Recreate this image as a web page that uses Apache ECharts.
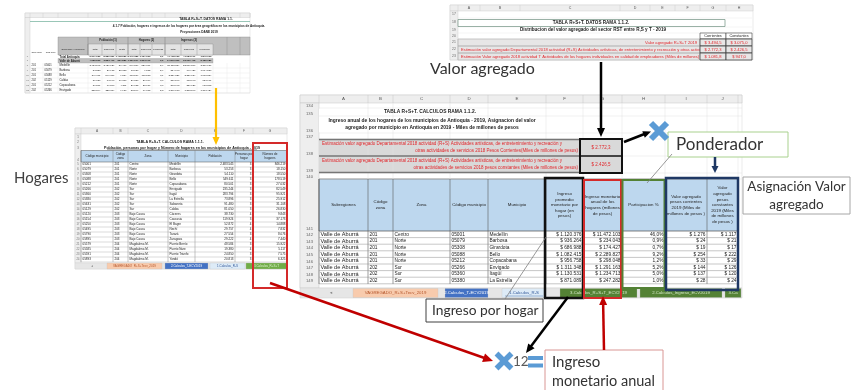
<!DOCTYPE html>
<html><head><meta charset="utf-8">
<script src="https://cdn.jsdelivr.net/npm/echarts@6/dist/echarts.min.js"></script>
<style>html,body{margin:0;padding:0;background:#fff}#c{width:851px;height:390px}</style>
</head><body><div id="c"></div>
<script>
// ================= DATA =================
// Top-left sheet: TABLA R+S+T. DATOS RAMA 1.1.
const s1Title = 'TABLA R+S+T. DATOS RAMA 1.1.';
const s1Sub1 = '4.1.7 Población, hogares e ingresos de los hogares por área geográfica en los municipios de Antioquia.';
const s1Sub2 = 'Proyecciones DANE 2019';
const s1Groups = ['Población (1)', 'Hogares (2)', 'Ingresos (3)'];
const s1SubHeads = ['Total', 'Cabecera', 'Resto', 'Total', 'Cabecera', 'Personas por hogar', 'Total', 'Cabecera', 'Promedio hogar'];
const s1Names = ['Total Antioquia', 'Valle de Aburrá', 'Medellín', 'Barbosa', 'Bello', 'Caldas', 'Copacabana', 'Envigado'];
const s1Zona = ['', '', '201', '201', '201', '202', '201', '202'];
const s1Mun = ['', '', '05001', '05079', '05088', '05129', '05212', '05266'];
const s1PobT = ['6.677.930', '4.055.296', '2.483.545', '53.253', '549.611', '81.050', '80.501', '235.244'];
const s1PobC = ['5.259.301', '3.823.416', '2.427.129', '27.915', '540.377', '63.740', '76.290', '225.314'];
const s1PobR = ['1.418.629', '231.880', '56.416', '25.338', '9.234', '17.310', '4.211', '9.930'];
const s1HogT = ['2.140.356', '1.369.517', '846.219', '18.150', '178.519', '26.830', '27.032', '82.549'];
const s1HogC = ['1.707.993', '1.293.170', '827.001', '9.512', '175.518', '21.099', '25.617', '79.065'];
const s1Per = ['3,1', '3,0', '2,9', '2,9', '3,1', '3,0', '3,0', '2,8'];
const s1IngT = ['47.418.103', '34.876.390', '23.112.884', '234.043', '2.289.827', '210.540', '298.048', '1.291.163'];
const s1IngC = ['41.023.771', '33.990.412', '22.871.506', '140.426', '2.251.184', '172.643', '286.126', '1.262.540'];
const s1IngP = ['1.846.193', '2.122.180', '2.276.137', '1.074.580', '1.068.884', '653.901', '918.805', '1.303.424'];

// Top-right sheet: TABLA R+S+T. DATOS RAMA 1.1.2.
const s2Title = 'TABLA R+S+T. DATOS RAMA 1.1.2.';
const s2Sub = 'Distribucion del valor agregado del sector RST entre R,S y T - 2019';
const s2Heads = ['Corrientes', 'Constantes'];
const s2Labels = ['Valor agregado R+S+T 2019',
  'Estimación valor agregado Departamental 2018 actividad (R+S) Actividades artísticas, de entretenimiento y recreación y otras actividades',
  'Estimación Valor agregado 2018 actividad T Actividades de los hogares individuales en calidad de empleadores (Miles de millones)'];
const s2Corr = ['$ 3.494,5', '$ 2.772,3', '$ 1.081,8'];
const s2Cons = ['$ 3.075,0', '$ 2.426,5', '$ 947,0'];

// Left sheet: TABLA R+S+T. CALCULOS RAMA 1.1.1. (Hogares)
const hTitle = 'TABLA R+S+T. CALCULOS RAMA 1.1.1.';
const hSub = 'Población, personas por hogar y Número de hogares en los municipios de Antioquia - 2019';
const hHeads = [['Código municipio'], ['Código', 'zona'], ['Zona'], ['Municipio'], ['Población'], ['Personas por', 'hogar'], ['Número de', 'hogares']];
const hCod = ['05001', '05079', '05308', '05088', '05212', '05266', '05360', '05380', '05631', '05129', '05120', '05154', '05250', '05495', '05790', '05895', '05579', '05585', '05591', '05893'];
const hZonaCod = ['201', '201', '201', '201', '201', '202', '202', '202', '202', '202', '203', '203', '203', '203', '203', '203', '204', '204', '204', '204'];
const hZona = ['Centro', 'Norte', 'Norte', 'Norte', 'Norte', 'Sur', 'Sur', 'Sur', 'Sur', 'Sur', 'Bajo Cauca', 'Bajo Cauca', 'Bajo Cauca', 'Bajo Cauca', 'Bajo Cauca', 'Bajo Cauca', 'Magdalena M.', 'Magdalena M.', 'Magdalena M.', 'Magdalena M.'];
const hMun = ['Medellín', 'Barbosa', 'Girardota', 'Bello', 'Copacabana', 'Envigado', 'Itagüí', 'La Estrella', 'Sabaneta', 'Caldas', 'Cáceres', 'Caucasia', 'El Bagre', 'Nechí', 'Tarazá', 'Zaragoza', 'Puerto Berrío', 'Puerto Nare', 'Puerto Triunfo', 'Yondó'];
const hPob = ['2.483.545', '53.253', '54.110', '549.611', '80.501', '235.244', '283.794', '73.896', '91.480', '81.050', '38.730', '119.924', '52.872', '29.757', '27.554', '29.222', '48.584', '19.380', '24.850', '20.813'];
const hPer = ['3', '3', '3', '3', '3', '3', '3', '3', '3', '3', '4', '3', '4', '4', '3', '4', '3', '4', '3', '3'];
const hHog = ['846.219', '18.150', '18.550', '178.519', '27.032', '82.549', '95.921', '25.912', '31.108', '26.830', '9.843', '37.173', '14.888', '7.832', '8.076', '7.440', '15.922', '5.117', '7.575', '6.325'];
const hTabs = ['VAGREGADO_R+S+Tecv_2019', '2.Calculos_T-ECV2019', '1.Calculos_R-S', '3.Calculos_R+S+T'];

// Main sheet: TABLA R+S+T. CALCULOS RAMA 1.1.2.
const mLetters = ['A', 'B', 'C', 'D', 'E', 'F', 'G', 'H', 'I', 'J'];
const mTitle = 'TABLA R+S+T. CALCULOS RAMA 1.1.2.';
const mSub1 = 'Ingreso anual de los hogares de los municipios de Antioquia - 2019, Asignacion del valor';
const mSub2 = 'agregado por municipio en Antioquia en 2019 - Miles de millones de pesos';
const mRed1 = ['Estimación valor agregado Departamental 2018 actividad (R+S) Actividades artísticas, de entretenimiento y recreación y',
  'Estimación valor agregado Departamental 2018 actividad (R+S) Actividades artísticas, de entretenimiento y recreación y'];
const mRed2 = ['otras actividades de servicios 2018 Pesos Corrientes(Miles de millones de pesos)',
  'otras actividades de servicios 2018 pesos constantes (Miles de millones de pesos)'];
const mRedVals = ['$ 2.772,3', '$ 2.426,5'];
const mHeads = [['Subregiones'], ['Código', 'zona'], ['Zona'], ['Código municipio'], ['Municipio'],
  ['Ingreso', 'promedio', 'monetario por', 'hogar (en', 'pesos)'],
  ['Ingreso monetario', 'anual de los', 'hogares (millones', 'de pesos)'],
  ['Participacion %'],
  ['Valor agregado', 'pesos corrientes', '2019 (Miles de', 'millones de pesos )'],
  ['Valor', 'agregado', 'pesos', 'constantes', '2019 (Miles', 'de millones', 'de pesos )']];
const mSubreg = ['Valle de Aburrá', 'Valle de Aburrá', 'Valle de Aburrá', 'Valle de Aburrá', 'Valle de Aburrá', 'Valle de Aburrá', 'Valle de Aburrá', 'Valle de Aburrá'];
const mCodZona = ['201', '201', '201', '201', '201', '202', '202', '202'];
const mZona = ['Centro', 'Norte', 'Norte', 'Norte', 'Norte', 'Sur', 'Sur', 'Sur'];
const mCodMun = ['05001', '05079', '05308', '05088', '05212', '05266', '05360', '05380'];
const mMun = ['Medellín', 'Barbosa', 'Girardota', 'Bello', 'Copacabana', 'Envigado', 'Itagüí', 'La Estrella'];
const mIngProm = ['$ 1.120.376', '$ 936.264', '$ 686.988', '$ 1.082.415', '$ 956.758', '$ 1.311.348', '$ 1.130.531', '$ 871.089'];
const mIngAnual = ['$ 11.472.103', '$ 234.043', '$ 174.427', '$ 2.289.827', '$ 298.048', '$ 1.291.163', '$ 1.234.713', '$ 247.282'];
const mPart = ['46,0%', '0,9%', '0,7%', '9,2%', '1,2%', '5,2%', '5,0%', '1,0%'];
const mVACorr = ['$ 1.276', '$ 24', '$ 19', '$ 254', '$ 33', '$ 144', '$ 137', '$ 28'];
const mVACons = ['$ 1.117', '$ 21', '$ 17', '$ 222', '$ 29', '$ 126', '$ 120', '$ 24'];
const mTabs = ['VAGREGADO_R+S+Tecv_2019', '2.Calculos_T-ECV2019', '1.Calculos_R-S', '3.Calculos_R+S+T_ECV2019', '2.Calculos_Ingreso_ECV2019', '3.Ca'];

// Callout labels
const lblValor = 'Valor agregado';
const lblPond = 'Ponderador';
const lblAsig = ['Asignación Valor', 'agregado'];
const lblHog = 'Hogares';
const lblIngHog = 'Ingreso por hogar';
const lblIngAn = ['Ingreso', 'monetario anual'];
const lblDoce = '12';

// ================= DRAWING HELPERS =================
const SF = '"Liberation Sans", Arial, sans-serif';
const LF = 'Lato, "Noto Sans", sans-serif';
const E = [];
function R(x, y, w, h, fill, stroke, lw, z) { E.push({ type: 'rect', silent: true, z: z || 1, shape: { x: x, y: y, width: w, height: h }, style: { fill: fill || 'none', stroke: stroke || 'none', lineWidth: lw || 0 } }); }
function T(x, y, t, fs, col, al, wt, ff, z) { E.push({ type: 'text', silent: true, z: z || 3, x: x, y: y, style: { text: t, fontSize: fs, fontFamily: ff || SF, fontWeight: wt || 'normal', fill: col || '#222', align: al || 'left', verticalAlign: 'middle', textAlign: al || 'left', textVerticalAlign: 'middle' } }); }
function L(pts, col, lw, z) { E.push({ type: 'polyline', silent: true, z: z || 2, shape: { points: pts }, style: { stroke: col, lineWidth: lw, fill: 'none' } }); }
function HL(x1, x2, y, col, lw, z) { L([[x1, y], [x2, y]], col, lw, z); }
function VL(x, y1, y2, col, lw, z) { L([[x, y1], [x, y2]], col, lw, z); }
function ARW(x1, y1, x2, y2, col, lw, hl, hw) {
  const dx = x2 - x1, dy = y2 - y1, len = Math.hypot(dx, dy), ux = dx / len, uy = dy / len;
  const bx = x2 - ux * hl, by = y2 - uy * hl;
  L([[x1, y1], [bx + ux, by + uy]], col, lw, 12);
  E.push({ type: 'polygon', silent: true, z: 12, shape: { points: [[x2, y2], [bx - uy * hw / 2, by + ux * hw / 2], [bx + uy * hw / 2, by - ux * hw / 2]] }, style: { fill: col } });
}
function XMARK(cx, cy, s, lw, col) { L([[cx - s, cy - s], [cx + s, cy + s]], col, lw, 12); L([[cx - s, cy + s], [cx + s, cy - s]], col, lw, 12); }
function cellText(x0, x1, y, t, fs, al, col, wt) {
  if (al === 'right') T(x1 - 1.5, y, t, fs, col, 'right', wt);
  else if (al === 'center') T((x0 + x1) / 2, y, t, fs, col, 'center', wt);
  else T(x0 + 1.5, y, t, fs, col, 'left', wt);
}
const HDR = '#eeeeee', HDRL = '#c6c6c6', GRID = '#e2e2e2', RED = '#e2262b';

// ================= TOP-LEFT SHEET =================
(function () {
  const x0 = 25, x1 = 250, y0 = 13, y1 = 93;
  R(x0, y0, x1 - x0, y1 - y0, '#fff', '#d5d5d5', 0.5, 0);
  R(x0, y0, x1 - x0, 4.5, HDR, HDRL, 0.4, 1);
  R(x0, y0 + 4.5, 5, y1 - y0 - 4.5, HDR, HDRL, 0.4, 1);
  const cx = [30, 43, 58, 88, 102, 116, 128, 140, 152, 165, 181, 197, 213, 227, 240, 250];
  for (let i = 0; i < cx.length; i++) VL(cx[i], y0, y0 + 4.5, HDRL, 0.4);
  for (let i = 0; i < cx.length - 1; i++) VL(cx[i], 63, y1, GRID, 0.4);
  HL(30, 250, 21.5, '#7fb8a4', 0.8);
  T(206, 19, s1Title, 3.4, '#222', 'center', 'bold');
  T(189, 26, s1Sub1, 3.1, '#222', 'center', 'bold');
  T(199, 32, s1Sub2, 3.1, '#222', 'center', 'bold');
  R(58, 37, 192, 18, '#bfbfbf', '#8c8c8c', 0.4, 1);
  R(88, 44, 125, 11, '#e4e4e4', '#8c8c8c', 0.4, 1);
  for (let g = 0; g < 3; g++) {
    const a = [88, 128, 165][g], b = [128, 165, 213][g];
    VL(a, 37, 55, '#7f7f7f', 0.5, 2);
    T((a + b) / 2, 40.5, s1Groups[g], 2.8, '#222', 'center', 'bold');
  }
  for (let k = 0; k < 9; k++) { VL(cx[3 + k], 44, 55, '#8c8c8c', 0.4, 2); T((cx[3 + k] + cx[4 + k]) / 2, 49.5, s1SubHeads[k].length > 9 ? s1SubHeads[k].slice(0, 9) : s1SubHeads[k], 2.4, '#222', 'center'); }
  for (let k = 13; k < 15; k++) VL(cx[k], 37, 55, '#8c8c8c', 0.4, 2);
  T(73, 49.5, 'Subregión / municipio', 2.4, '#222', 'center');
  T(36.5, 52, 'Cod zona', 2.4, '#222', 'center'); T(50.5, 52, 'Cod mun', 2.4, '#222', 'center');
  R(58, 58.5, 155, 4.5, '#bfbfbf', '#8c8c8c', 0.3, 1);
  const cols = [s1PobT, s1PobC, s1PobR, s1HogT, s1HogC, s1Per, s1IngT, s1IngC, s1IngP];
  for (let r = 0; r < s1Names.length; r++) {
    const yt = r === 0 ? 55 : (r === 1 ? 58.5 : 63 + (r - 2) * 5);
    const yb = r === 0 ? 58.5 : (r === 1 ? 63 : yt + 5);
    const ym = (yt + yb) / 2;
    if (r > 1) HL(30, 250, yb, GRID, 0.4);
    cellText(30, 43, ym, s1Zona[r], 2.6, 'left');
    cellText(43, 58, ym, s1Mun[r], 2.6, 'left');
    cellText(58, 88, ym, s1Names[r], 2.8, 'left', '#222', r < 2 ? 'bold' : 'normal');
    for (let k = 0; k < 9; k++) cellText(cx[3 + k], cx[4 + k], ym, cols[k][r], 2.5, 'right', '#222', r < 2 ? 'bold' : 'normal');
    T(27.5, ym, String(6 + r), 2.4, '#666', 'center');
  }
})();

// ================= TOP-RIGHT SHEET =================
(function () {
  R(450, 5, 303, 55, '#fff', '#d5d5d5', 0.5, 0);
  R(450, 5, 303, 6, HDR, HDRL, 0.4, 1);
  R(450, 11, 8, 49, HDR, HDRL, 0.4, 1);
  const cx = [458, 480, 520, 620, 650, 675, 700, 726, 752];
  for (let i = 0; i < cx.length - 1; i++) { VL(cx[i], 5, 11, HDRL, 0.4); T((cx[i] + cx[i + 1]) / 2, 8, mLetters[i], 3.6, '#555', 'center'); }
  const rows = [[11, 18], [18, 27], [27, 33], [33, 39], [39, 46], [46, 53], [53, 60]];
  rows.forEach((rb, i) => { T(454, (rb[0] + rb[1]) / 2, String(17 + i), 3.4, '#666', 'center'); HL(458, 752, rb[1], GRID, 0.4); });
  R(458, 19.5, 267, 7, '#fff', '#6f8f7f', 0.7, 2);
  T(591, 23, s2Title, 4.6, '#222', 'center', 'bold');
  T(593, 30, s2Sub, 4.6, '#222', 'center', 'bold');
  R(700, 33, 26, 6, '#fff', '#404040', 0.6, 2); R(726, 33, 26, 6, '#fff', '#404040', 0.6, 2);
  T(713, 36, s2Heads[0], 3.8, '#222', 'center'); T(739, 36, s2Heads[1], 3.8, '#222', 'center');
  R(458, 39, 242, 21, '#e7e6e6', '#8c8c8c', 0.5, 1);
  HL(458, 700, 46, '#8c8c8c', 0.6); HL(458, 700, 53, '#8c8c8c', 0.6);
  for (let r = 0; r < 3; r++) {
    const ym = 42.5 + r * 7;
    if (r === 0) T(697, ym, s2Labels[r], 4.1, RED, 'right');
    else T(461, ym, s2Labels[r], 4.1, RED, 'left');
    R(700, 39 + r * 7, 26, 7, '#e7e6e6', '#404040', 0.8, 5);
    R(726, 39 + r * 7, 26, 7, '#e7e6e6', '#404040', 0.8, 5);
    T(713, ym, s2Corr[r], 4.1, RED, 'center', 'normal', SF, 6);
    T(739, ym, s2Cons[r], 4.1, RED, 'center', 'normal', SF, 6);
  }
})();

// ================= HOGARES SHEET =================
(function () {
  const hx = [81, 113, 128, 168, 195, 235, 253, 287];
  R(75, 128, 212, 141, '#fff', '#d5d5d5', 0.5, 0);
  R(75, 128, 212, 6, HDR, HDRL, 0.4, 1);
  R(75, 134, 6, 129, HDR, HDRL, 0.4, 1);
  for (let i = 0; i < hx.length - 1; i++) { VL(hx[i], 128, 134, HDRL, 0.4); T((hx[i] + hx[i + 1]) / 2, 131, mLetters[i], 3.2, '#555', 'center'); }
  const top = [[134, 139], [139, 144], [144, 150.5], [150.5, 162]];
  top.forEach((rb, i) => T(78, rb[1] - 2, String(1 + i), 2.8, '#666', 'center'));
  T(170, 141.5, hTitle, 3.6, '#222', 'center', 'bold');
  T(182, 147.5, hSub, 3.6, '#222', 'center', 'bold');
  HL(107, 257, 149.6, '#222', 0.35);
  R(81, 150.5, 206, 11.5, '#bdd7ee', '#505050', 0.5, 1);
  for (let c = 0; c < 7; c++) {
    VL(hx[c], 150.5, 262, '#6d6d6d', 0.4, 2);
    const ln = hHeads[c];
    ln.forEach((s, k) => T((hx[c] + hx[c + 1]) / 2, 156.2 + (k - (ln.length - 1) / 2) * 3.6, s, 3.0, '#222', 'center'));
  }
  const cols = [hCod, hZonaCod, hZona, hMun, hPob, hPer, hHog];
  const al = ['left', 'left', 'left', 'left', 'right', 'right', 'right'];
  for (let r = 0; r < hMun.length; r++) {
    const yt = 162 + r * 5, ym = yt + 2.5;
    HL(81, 287, yt + 5, '#9a9a9a', 0.35);
    T(78, ym, String(5 + r), 2.6, '#666', 'center');
    for (let c = 0; c < 7; c++) cellText(hx[c], hx[c + 1], ym, cols[c][r], 3.0, al[c]);
  }
  R(75, 263, 212, 6, '#e6e6e6', '#cfcfcf', 0.4, 1);
  T(92, 266, '◄', 3, '#888', 'center');
  const tb = [[107, 162, '#f8cbad', '#b4552a'], [165, 208, '#4472c4', '#ffffff'], [210, 245, '#ddebf7', '#2f5597'], [246, 287, '#70ad47', '#e2f0d9']];
  tb.forEach((t, i) => { R(t[0], 263, t[1] - t[0], 6, t[2], '#bfbfbf', 0.3, 2); T((t[0] + t[1]) / 2, 266, hTabs[i], 3.0, t[3], 'center', 'normal', SF, 3); });
  R(253, 143, 34, 145, 'none', '#d42a2a', 2, 7);
})();

// ================= MAIN SHEET =================
(function () {
  const mx = [319, 368, 393, 450, 488, 546, 583, 622, 665, 707, 738];
  R(300, 95, 442, 193, '#fff', '#d5d5d5', 0.5, 0);
  R(300, 95, 442, 8, HDR, HDRL, 0.5, 1);
  R(300, 103, 19, 185, HDR, HDRL, 0.5, 1);
  for (let i = 0; i < 10; i++) { VL(mx[i], 95, 103, HDRL, 0.5); T((mx[i] + mx[i + 1]) / 2, 99, mLetters[i], 4.4, '#555', 'center'); }
  VL(738, 95, 103, HDRL, 0.5);
  const rb = [[103, 108], [108, 116], [116, 133], [133, 139], [139, 156], [156, 173], [173, 179], [179, 231]];
  for (let i = 0; i < 8; i++) rb.push([231 + i * 6.6, 231 + (i + 1) * 6.6]);
  rb.forEach((b, i) => { T(309.5, b[1] - 2.6, String(134 + i), 4.2, '#666', 'center'); });
  for (let i = 0; i < 7; i++) HL(319, 742, rb[i][1], GRID, 0.5);
  for (let i = 1; i < mx.length; i++) VL(mx[i], 103, 179, GRID, 0.5);
  R(319, 108.5, 260, 24, '#fff', null, 0, 1);
  T(430, 112, mTitle, 4.9, '#222', 'center', 'bold');
  T(432, 121, mSub1, 4.9, '#222', 'center', 'bold');
  T(432, 128, mSub2, 4.9, '#222', 'center', 'bold');
  R(319, 139, 261, 34, '#d9d9d9', null, 0, 1);
  HL(319, 580, 139.5, '#767676', 1.6); HL(319, 580, 156, '#767676', 1.6); HL(319, 580, 172.5, '#767676', 1.6);
  for (let k = 0; k < 2; k++) {
    T(322, 144 + k * 17, mRed1[k], 4.5, RED, 'left');
    T(578, 151 + k * 17, mRed2[k], 4.5, RED, 'right');
    T(601, 147.5 + k * 17, mRedVals[k], 4.5, RED, 'center', 'normal', SF, 8);
  }
  R(580, 139, 42, 34, '#d9d9d9', '#111', 2, 6);
  HL(580, 622, 156, '#111', 1.5, 7);
  R(319, 179, 419, 52, '#bdd7ee', '#4a4a4a', 0.7, 1);
  for (let c = 0; c < 10; c++) {
    VL(mx[c], 179, 284, '#5a5a5a', 0.6, 2);
    const ln = mHeads[c];
    ln.forEach((s, k) => T((mx[c] + mx[c + 1]) / 2, 205 + (k - (ln.length - 1) / 2) * 5.6, s, 4.4, '#222', 'center'));
  }
  const cols = [mSubreg, mCodZona, mZona, mCodMun, mMun, mIngProm, mIngAnual, mPart, mVACorr, mVACons];
  const al = ['left', 'left', 'left', 'left', 'left', 'right', 'right', 'right', 'right', 'right'];
  for (let r = 0; r < mMun.length; r++) {
    const yt = 231 + r * 6.6, ym = yt + 3.4;
    HL(319, 738, yt + 6.6, '#8f8f8f', 0.5);
    for (let c = 0; c < 10; c++) cellText(mx[c], mx[c + 1], ym, cols[c][r], c === 0 ? 5.6 : 4.8, al[c]);
  }
  R(300, 288, 442, 10, '#e6e6e6', '#cfcfcf', 0.5, 3);
  T(331, 293, '◄', 4, '#888', 'center', 'normal', SF, 4);
  const tb = [[353, 438, '#f8cbad', '#b4552a'], [445, 488, '#4472c4', '#ffffff'], [502, 546, '#ddebf7', '#2f5597'], [560, 637, '#548235', '#d5e8c8'], [640, 722, '#548235', '#d5e8c8'], [725, 741, '#548235', '#d5e8c8']];
  tb.forEach((t, i) => { R(t[0], 288.5, t[1] - t[0], 9, t[2], '#bfbfbf', 0.3, 4); T((t[0] + t[1]) / 2, 293, mTabs[i], 4.3, t[3], 'center', 'normal', SF, 5); });
  HL(505, 543, 296, '#2f5597', 0.4, 5);
  R(545, 178, 38, 120, 'none', '#111', 2.5, 8);
  R(584, 180, 37, 118, 'none', '#d42a2a', 2, 8);
  R(622.5, 180, 42, 108, 'none', '#538135', 2, 8);
  R(666, 178, 72, 112, 'none', '#1f3864', 2.5, 8);
})();

// ================= CALLOUTS =================
T(430, 69, lblValor, 16, '#333', 'left', 'normal', LF, 10);
R(668, 132, 120, 25, '#fff', '#a9d18e', 1, 9);
T(676, 144.5, lblPond, 17, '#333', 'left', 'normal', LF, 10);
R(743, 177, 107, 37, '#fff', '#a6a6a6', 1, 9);
T(796.5, 187, lblAsig[0], 13.5, '#333', 'center', 'normal', LF, 10);
T(796.5, 204.5, lblAsig[1], 13.5, '#333', 'center', 'normal', LF, 10);
T(14, 178, lblHog, 15, '#404040', 'left', 'normal', LF, 10);
R(426, 299, 117, 23, '#fff', '#404040', 1, 9);
T(432, 311, lblIngHog, 13.8, '#333', 'left', 'normal', LF, 10);
R(545, 350, 118, 45, '#fff', '#d99694', 1, 9);
T(552, 362, lblIngAn[0], 15, '#333', 'left', 'normal', LF, 10);
T(552, 381, lblIngAn[1], 14.5, '#333', 'left', 'normal', LF, 10);
T(513, 362, lblDoce, 13.5, '#595959', 'left', 'normal', LF, 10);
R(528, 356, 15, 4, '#5b9bd5', null, 0, 10); R(528, 363.5, 15, 4, '#5b9bd5', null, 0, 10);
XMARK(659, 131, 8, 6, '#5b9bd5');
XMARK(504, 361, 7.5, 5.5, '#5b9bd5');
L([[672, 154], [647, 183]], '#7f7f7f', 0.8, 9);
L([[505, 299], [546, 237]], '#7f7f7f', 0.8, 9);
ARW(216, 88, 216, 145, '#ffc000', 2.2, 8, 7);
ARW(601, 62, 601, 137, '#000', 2.5, 9, 8);
ARW(624, 142, 651, 131.5, '#000', 2.5, 8, 7);
ARW(715, 157, 715, 173, '#1f3864', 2.5, 7, 7);
ARW(568, 297, 526, 353, '#000', 2.5, 9, 8);
ARW(270, 283, 493, 361, '#c00000', 2.5, 10, 9);
ARW(604, 350, 603, 296, '#c00000', 2.5, 9, 8);

const chart = echarts.init(document.getElementById('c'), null, { renderer: 'canvas' });
chart.setOption({ animation: false, backgroundColor: '#ffffff', graphic: { elements: E } });
</script></body></html>
